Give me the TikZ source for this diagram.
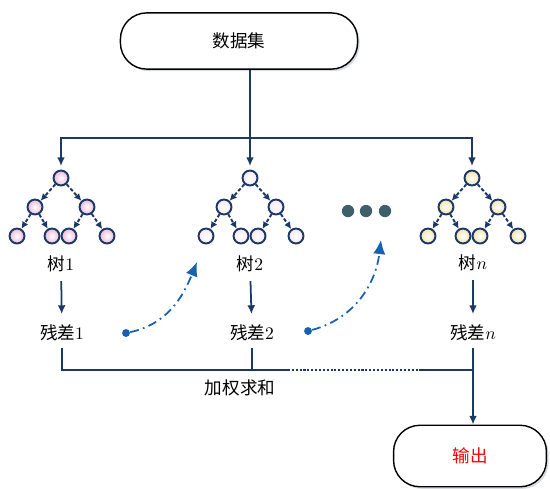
\documentclass[tikz,border=0pt]{standalone}
\usepackage{fontspec}
\newfontfamily\cjk{Noto Sans CJK SC}
\usetikzlibrary{arrows.meta,shadows}
\definecolor{navy}{HTML}{1C3866}
\definecolor{hintblue}{HTML}{1860B0}
\definecolor{dotgray}{HTML}{3F5F6A}
\definecolor{pinkfill}{HTML}{EDB8D4}
\definecolor{palefill}{HTML}{F8E6EE}
\definecolor{yellowfill}{HTML}{F5E2A8}
\tikzset{
  flowbox/.style={draw=black, line width=0.8pt, rounded corners=15pt, fill=white,
    drop shadow={shadow xshift=1.2pt, shadow yshift=-1.2pt, fill=navy!35},
    font=\fontsize{10}{12}\selectfont\cjk},
  treenode/.style={circle, draw=navy, line width=1.1pt, minimum size=8.5pt, inner sep=0pt},
  treeedge/.style={navy, line width=1.1pt, dash pattern=on 2pt off 1.2pt,
    -{Latex[length=4pt,width=4pt]}},
  mainarrow/.style={navy, line width=1pt, -{Latex[length=5pt,width=4.5pt]}},
  mainline/.style={navy, line width=1pt},
  lbl/.style={font=\fontsize{10}{12}\selectfont, inner sep=1pt},
  hint/.style={hintblue, line width=1pt, dash pattern=on 5pt off 2.5pt on 1pt off 2.5pt,
    -{Latex[length=8pt,width=7pt]}}
}
\begin{document}
\begin{tikzpicture}[x=0.02cm, y=-0.02cm]
\useasboundingbox (0,0) rectangle (550,488);
% Data set
\node[flowbox, minimum width=135pt, minimum height=32pt] (data) at (239,41) {数据集};
\coordinate (split) at (250,138);
\draw[mainline] (data.south -| split) -- (split);
% Trees
\foreach \tr/\x/\c in {1/61/pinkfill, 2/250/palefill, n/472/yellowfill}{
  \node[treenode, inner color=white, outer color=\c] (r\tr) at (\x,178) {};
  \node[treenode, inner color=white, outer color=\c] (a\tr) at ({\x-26},207) {};
  \node[treenode, inner color=white, outer color=\c] (b\tr) at ({\x+26},207) {};
  \node[treenode, inner color=white, outer color=\c] (aa\tr) at ({\x-44},236) {};
  \node[treenode, inner color=white, outer color=\c] (ab\tr) at ({\x-9},236) {};
  \node[treenode, inner color=white, outer color=\c] (ba\tr) at ({\x+8},236) {};
  \node[treenode, inner color=white, outer color=\c] (bb\tr) at ({\x+46},236) {};
  \draw[treeedge] (r\tr) -- (a\tr);
  \draw[treeedge] (r\tr) -- (b\tr);
  \draw[treeedge] (a\tr) -- (aa\tr);
  \draw[treeedge] (a\tr) -- (ab\tr);
  \draw[treeedge] (b\tr) -- (ba\tr);
  \draw[treeedge] (b\tr) -- (bb\tr);
}
\draw[mainarrow, shorten >=2pt] (split) -| (r1);
\draw[mainarrow, shorten >=2pt] (split) -- (r2);
\draw[mainarrow, shorten >=2pt] (split) -| (rn);
% Dots
\foreach \i/\x in {1/348,2/366,3/385}
  \node[circle, fill=dotgray, minimum size=7pt, inner sep=0pt] (dot\i) at (\x,211) {};
% Labels
\node[lbl] (l1) at (61,264) {{\cjk 树}1};
\node[lbl] (l2) at (250,264) {{\cjk 树}2};
\node[lbl] (ln) at (473,263) {{\cjk 树}$n$};
\node[lbl] (res1) at (62,333) {{\cjk 残差}1};
\node[lbl] (res2) at (252,333) {{\cjk 残差}2};
\node[lbl] (resn) at (473,333) {{\cjk 残差}$n$};
\foreach \i in {1,2,n}
  \draw[mainarrow, shorten <=4pt, shorten >=5pt] (l\i) -- (res\i);
% Hints
\node[circle, fill=hintblue, minimum size=4.5pt, inner sep=0pt] (s1) at (126,333) {};
\coordinate (e1) at (197,262);
\draw[hint] (s1) to[out=12, in=-112] (e1);
\node[circle, fill=hintblue, minimum size=4.5pt, inner sep=0pt] (s2) at (308,331) {};
\coordinate (e2) at (381,240);
\draw[hint] (s2) to[out=15, in=-97] (e2);
% Weighted sum
\coordinate (sum) at (0,370);
\coordinate (d1) at (288,370);
\coordinate (d2) at (422,370);
\draw[mainline, shorten <=3pt] (res1) -- (res1 |- sum) -- (d1);
\draw[navy, line width=1pt, dash pattern=on 1.2pt off 1pt] (d1) -- (d2);
\draw[mainline] (d2) -- (resn |- sum);
\draw[mainline, shorten <=3pt] (res2) -- (res2 |- sum);
\node[lbl] (wsum) at (240,388) {\cjk 加权求和};
% Output
\node[flowbox, minimum width=87pt, minimum height=35pt, text=red] (out) at (470,456) {输出};
\draw[mainarrow, shorten <=3pt] (resn) -- (resn |- out.north);
\end{tikzpicture}
\end{document}
